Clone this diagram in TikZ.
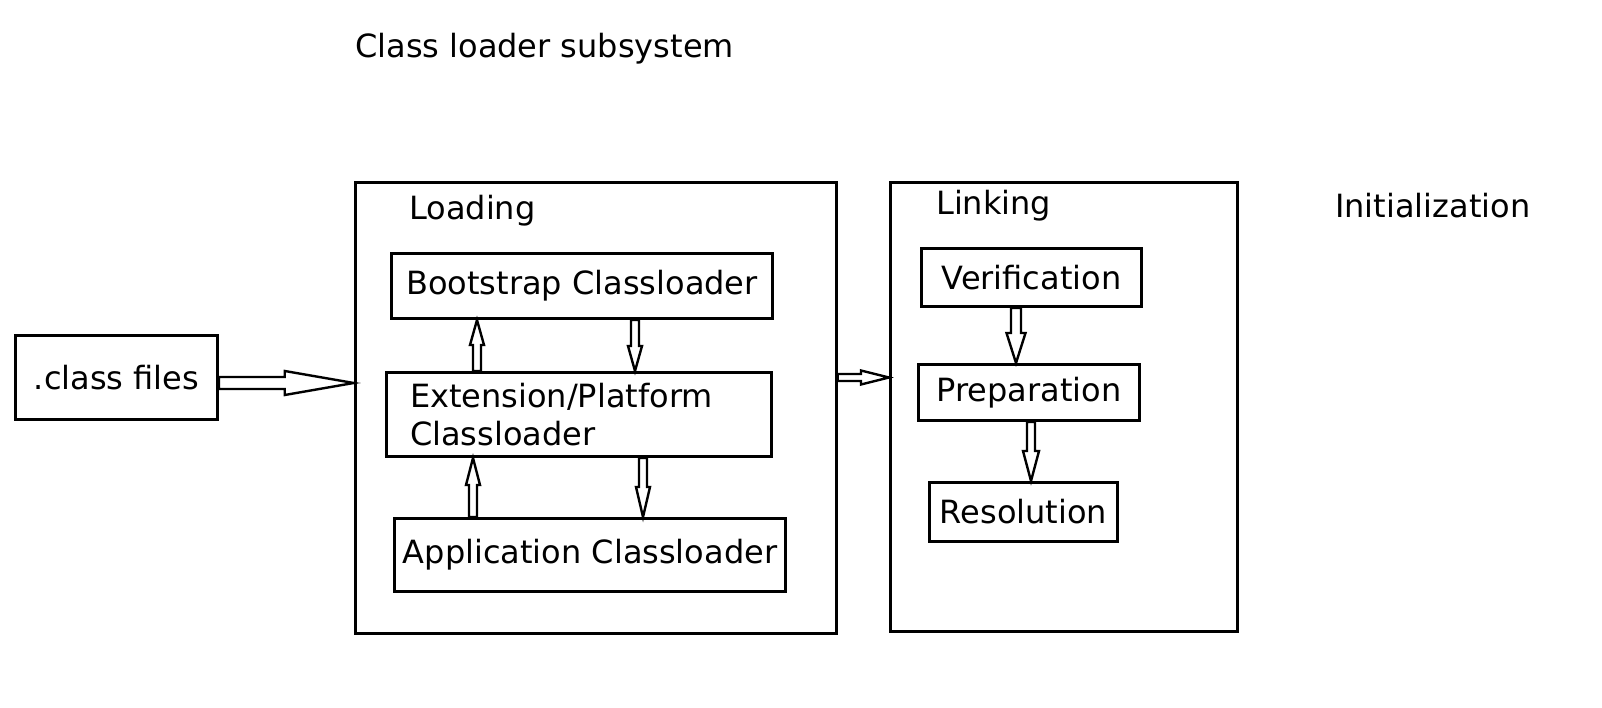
\documentclass[tikz,border=0pt]{standalone}
\usepackage{fontspec}
\setmainfont{DejaVu Sans}
\usetikzlibrary{positioning, calc}

\tikzset{
  box/.style={draw, line width=3pt, inner sep=0pt, font=\fontsize{32}{38}\selectfont},
  lbl/.style={anchor=base west, inner sep=0pt, font=\fontsize{32}{38}\selectfont},
  % hollow block arrow: shaft half width / head half width / head length
  fat/.style n args={3}{line width=2.4pt, line join=miter,
    to path={let \p1=(\tikztostart), \p2=(\tikztotarget),
      \n1={atan2(\y2-\y1,\x2-\x1)}, \n2={veclen(\x2-\x1,\y2-\y1)} in
      {[shift={(\p1)}, rotate=\n1] (0,-#1) -- (\n2-#3,-#1) -- (\n2-#3,-#2) -- (\n2,0)
        -- (\n2-#3,#2) -- (\n2-#3,#1) -- (0,#1) -- cycle}}}
}

\begin{document}
\begin{tikzpicture}[x=1pt, y=-1pt]
  \useasboundingbox (0,0) rectangle (1602,708);

  % Labels
  \node[lbl] (title) at (355,58) {Class loader subsystem};
  \node[lbl] (loadtxt) at (409,220) {Loading};
  \node[lbl] (linktxt) at (936,215) {Linking};
  \node[lbl] (init) at (1335,218) {Initialization};

  % Boxes
  \node[box, minimum width=202, minimum height=84] (cls) at (116.5,377.5) {.class files};
  \node[box, minimum width=481, minimum height=451] (load) at (595.75,408.25) {};
  \node[box, minimum width=347, minimum height=449] (link) at (1064,407) {};
  \node[box, minimum width=381, minimum height=65] (boot) at (582,286) {Bootstrap Classloader};
  \node[box, minimum width=385, minimum height=84, text width=338, align=left] (ext) at (579,414.5) {Extension/Platform\\Classloader};
  \node[box, minimum width=391, minimum height=73] (app) at (590,555) {Application Classloader};
  \node[box, minimum width=220, minimum height=58] (verif) at (1031.5,277.5) {Verification};
  \node[box, minimum width=221, minimum height=56] (prep) at (1029,392.5) {Preparation};
  \node[box, minimum width=188, minimum height=59] (res) at (1023.5,512) {Resolution};

  % Arrows
  \foreach \n/\x in {upa/477, dna/635, upb/473, dnb/643, vp/1016, pr/1031}
  \coordinate (\n) at (\x,0);
  \coordinate (feed) at (0,383);
  \draw[fat={6}{12}{69}] (cls.east |- feed) to (load.west |- feed);
  \draw[fat={3.5}{7}{28}] (load.east |- cls) to (link.west |- cls);
  \draw[fat={4}{7}{25}] (ext.north -| upa) to (boot.south -| upa);
  \draw[fat={4}{7}{25}] (boot.south -| dna) to (ext.north -| dna);
  \draw[fat={4}{7}{27}] (app.north -| upb) to (ext.south -| upb);
  \draw[fat={4}{7}{30}] (ext.south -| dnb) to (app.north -| dnb);
  \draw[fat={5}{9.5}{30}] (verif.south -| vp) to (prep.north -| vp);
  \draw[fat={4}{8}{30}] (prep.south -| pr) to (res.north -| pr);
\end{tikzpicture}
\end{document}
